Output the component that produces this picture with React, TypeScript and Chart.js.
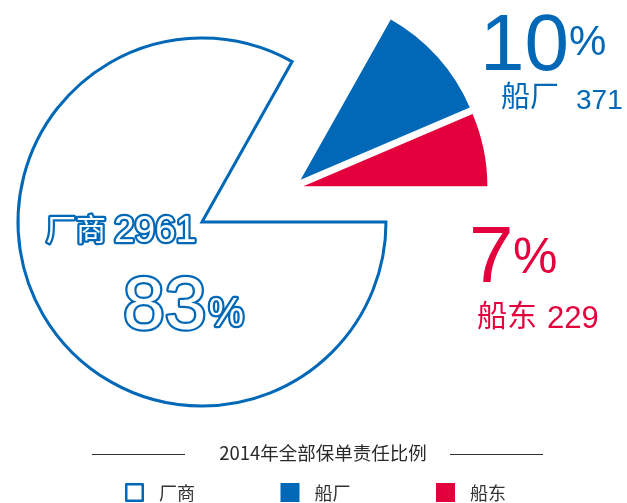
import React, { useEffect, useRef } from "react";
import { Chart, registerables } from "chart.js";

Chart.register(...registerables);

// ---- data ----
const categories = ["厂商", "船厂", "船东"];
const values = [2961, 371, 229];
const percentLabels = ["83", "10", "7"];
const chartTitle = "2014年全部保单责任比例";

// ---- styles ----
const BLUE = "#0068b7";
const RED = "#e4003d";
const TEXT = "#333333";
const fillColors = ["#ffffff", BLUE, RED];
const borderColors = [BLUE, BLUE, RED];
const borderWidths = [3, 0, 0];

const LATIN = '"Liberation Sans", Arial, "Noto Sans CJK SC", sans-serif';
const CJK = '"Noto Sans CJK SC", sans-serif';

function outlined(ctx: CanvasRenderingContext2D, text: string, x: number, y: number, font: string, color: string) {
  ctx.font = font;
  ctx.lineJoin = "round";
  ctx.lineWidth = 4.5;
  ctx.strokeStyle = color;
  ctx.strokeText(text, x, y);
  ctx.fillStyle = "#ffffff";
  ctx.fillText(text, x, y);
  return ctx.measureText(text).width;
}

function filled(ctx: CanvasRenderingContext2D, text: string, x: number, y: number, font: string, color: string) {
  ctx.font = font;
  ctx.fillStyle = color;
  ctx.fillText(text, x, y);
  return ctx.measureText(text).width;
}

const explodePlugin = {
  id: "explodeSmall",
  afterDatasetUpdate(chart: any) {
    const arcs = chart.getDatasetMeta(0).data as any[];
    if (arcs.length < 3) return;
    const b = arcs[2].startAngle;
    const nx = Math.sin(b);
    const ny = -Math.cos(b);
    const dx = 100, dy = -39, g = 3.5;
    arcs[1].x += dx + g * nx;
    arcs[1].y += dy + g * ny;
    arcs[2].x += dx - g * nx;
    arcs[2].y += dy - g * ny;
  },
};

const textPlugin = {
  id: "infoText",
  afterDraw(chart: any) {
    const ctx: CanvasRenderingContext2D = chart.ctx;
    ctx.save();
    ctx.textBaseline = "alphabetic";
    ctx.textAlign = "left";

    // 厂商
    outlined(ctx, categories[0], 46, 240, `30px ${CJK}`, BLUE);
    outlined(ctx, String(values[0]), 114, 242, `37px ${LATIN}`, BLUE);
    const w83 = outlined(ctx, percentLabels[0], 123, 329, `75px ${LATIN}`, BLUE);
    outlined(ctx, "%", 123 + w83 + 2, 326, `40px ${LATIN}`, BLUE);

    // 船厂
    filled(ctx, percentLabels[1], 480, 70, `80px ${LATIN}`, BLUE);
    filled(ctx, "%", 569, 55, `42px ${LATIN}`, BLUE);
    filled(ctx, categories[1], 501, 107, `29px ${CJK}`, BLUE);
    filled(ctx, String(values[1]), 576, 109, `28px ${LATIN}`, BLUE);

    // 船东
    filled(ctx, percentLabels[2], 469, 282, `80px ${LATIN}`, RED);
    filled(ctx, "%", 513, 273, `50px ${LATIN}`, RED);
    filled(ctx, categories[2], 477, 326, `30px ${CJK}`, RED);
    filled(ctx, String(values[2]), 547, 328, `31px ${LATIN}`, RED);

    // title with rules
    ctx.textAlign = "center";
    ctx.textBaseline = "middle";
    ctx.font = `18.5px ${CJK}`;
    ctx.fillStyle = "#2a2a2a";
    ctx.fillText(chartTitle, 323, 453);
    ctx.strokeStyle = TEXT;
    ctx.lineWidth = 1;
    ctx.beginPath();
    ctx.moveTo(92, 454.5);
    ctx.lineTo(185, 454.5);
    ctx.moveTo(450, 454.5);
    ctx.lineTo(543, 454.5);
    ctx.stroke();

    // legend
    ctx.textAlign = "left";
    ctx.font = `18px ${CJK}`;
    const startX = 125;
    const step = 155.5;
    categories.forEach((c, i) => {
      const x = startX + step * i;
      const y = 483;
      const s = 19;
      if (i === 0) {
        ctx.fillStyle = "#ffffff";
        ctx.fillRect(x, y, s, s);
        ctx.strokeStyle = borderColors[i];
        ctx.lineWidth = 2.5;
        ctx.strokeRect(x + 1.25, y + 1.25, s - 2.5, s - 2.5);
      } else {
        ctx.fillStyle = fillColors[i];
        ctx.fillRect(x, y, s, s);
      }
      ctx.fillStyle = TEXT;
      ctx.textBaseline = "middle";
      ctx.fillText(c, x + 34, 493);
    });
    ctx.restore();
  },
};

export default function App() {
  const ref = useRef<HTMLCanvasElement | null>(null);
  useEffect(() => {
    if (!ref.current) return;
    const chart = new Chart(ref.current, {
      type: "pie",
      data: {
        labels: categories,
        datasets: [
          {
            data: values,
            backgroundColor: fillColors,
            borderColor: borderColors,
            borderWidth: borderWidths,
            borderJoinStyle: "miter",
            borderAlign: "center",
          } as any,
        ],
      },
      options: {
        responsive: false,
        animation: false,
        events: [],
        rotation: 90,
        layout: { padding: { left: 16.5, top: 36.5, right: 239.5, bottom: 95.5 } },
        plugins: { legend: { display: false }, tooltip: { enabled: false } },
      } as any,
      plugins: [explodePlugin, textPlugin],
    });
    return () => chart.destroy();
  }, []);
  return (
    <div style={{ position: "absolute", left: 0, top: 0, width: 627, height: 503, background: "#fff" }}>
      <canvas ref={ref} width={627} height={503} style={{ display: "block" }} />
    </div>
  );
}
